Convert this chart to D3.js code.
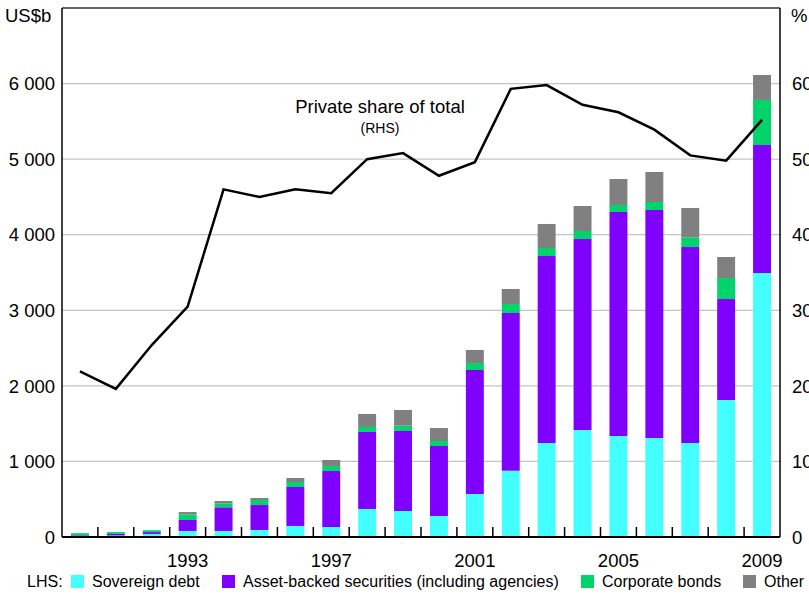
<!DOCTYPE html>
<html>
<head>
<meta charset="utf-8">
<title>Private share of total</title>
<script src="https://d3js.org/d3.v7.min.js"></script>
<style>
  body { margin: 0; background: #fff; }
  svg { font-family: "Liberation Sans", Arial, sans-serif; }
</style>
</head>
<body>
<script>
// data (US$b, % for the line)
var years = d3.range(1990, 2010);
var sovereign = [10, 20, 40, 80, 80, 93, 146, 132, 371, 344, 278, 569, 877, 1244, 1416, 1336, 1310, 1244, 1813, 3493];
var abs       = [12, 20, 25, 145, 313, 330, 516, 741, 1019, 1059, 926, 1641, 2087, 2474, 2527, 2965, 3017, 2593, 1336, 1694];
var corporate = [28, 25, 25, 75, 53, 67, 66, 67, 66, 70, 66, 92, 119, 106, 106, 92, 106, 129, 278, 596];
var other     = [0, 0, 0, 30, 30, 26, 53, 79, 172, 208, 172, 173, 199, 318, 331, 344, 397, 388, 278, 331];
var privateShare = [21.9, 19.6, 25.4, 30.5, 46.0, 45.0, 46.0, 45.5, 50.0, 50.8, 47.8, 49.6, 59.3, 59.8, 57.2, 56.2, 53.9, 50.5, 49.8, 55.2];
var leftTicks = [0, 1000, 2000, 3000, 4000, 5000, 6000];
var rightTicks = [0, 10, 20, 30, 40, 50, 60];
var yearLabels = [1993, 1997, 2001, 2005, 2009];

var seriesNames = ["Sovereign debt", "Asset-backed securities (including agencies)", "Corporate bonds", "Other"];
var colors = ["#44ffff", "#8000ff", "#00d46a", "#808080"];

var W = 809, H = 594;
var m = {left: 62, right: 29, top: 8, bottom: 57};
var iw = W - m.left - m.right, ih = H - m.top - m.bottom;

var svg = d3.select("body").append("svg").attr("width", W).attr("height", H);
var g = svg.append("g").attr("transform", "translate(" + m.left + "," + m.top + ")");

var x = d3.scaleBand().domain(years).range([0, iw]).paddingInner(0.5).paddingOuter(0.25);
var yL = d3.scaleLinear().domain([0, 7000]).range([ih, 0]);
var yR = d3.scaleLinear().domain([0, 70]).range([ih, 0]);

// gridlines
g.selectAll(".grid").data(leftTicks.slice(1)).enter().append("line")
  .attr("x1", 0).attr("x2", iw)
  .attr("y1", function(d){ return yL(d); }).attr("y2", function(d){ return yL(d); })
  .attr("stroke", "#c4c4c4").attr("stroke-width", 1.2);

// stacked bars
var table = years.map(function(yr, i){
  return {year: yr, s0: sovereign[i], s1: abs[i], s2: corporate[i], s3: other[i]};
});
var stack = d3.stack().keys(["s0", "s1", "s2", "s3"])(table);

g.selectAll(".layer").data(stack).enter().append("g")
  .attr("fill", function(d, i){ return colors[i]; })
  .selectAll("rect").data(function(d){ return d; }).enter().append("rect")
  .attr("x", function(d){ return x(d.data.year); })
  .attr("width", x.bandwidth())
  .attr("y", function(d){ return yL(d[1]); })
  .attr("height", function(d){ return yL(d[0]) - yL(d[1]); });

// line
var line = d3.line()
  .x(function(d, i){ return x(years[i]) + x.bandwidth() / 2; })
  .y(function(d){ return yR(d); });
g.append("path").datum(privateShare)
  .attr("d", line).attr("fill", "none")
  .attr("stroke", "#000").attr("stroke-width", 2.5).attr("stroke-linejoin", "miter");

// frame
g.append("line").attr("x1", 0).attr("x2", iw).attr("y1", 0).attr("y2", 0).attr("stroke", "#333").attr("stroke-width", 1.5);
g.append("line").attr("x1", 0).attr("x2", 0).attr("y1", 0).attr("y2", ih).attr("stroke", "#000").attr("stroke-width", 1.5);
g.append("line").attr("x1", iw).attr("x2", iw).attr("y1", 0).attr("y2", ih).attr("stroke", "#000").attr("stroke-width", 1.5);
g.append("line").attr("x1", 0).attr("x2", iw).attr("y1", ih).attr("y2", ih).attr("stroke", "#000").attr("stroke-width", 2);

// bottom ticks between bars
var step = x.step();
g.selectAll(".xtick").data(years.slice(1)).enter().append("line")
  .attr("x1", function(d){ return x(d) - step * 0.25; })
  .attr("x2", function(d){ return x(d) - step * 0.25; })
  .attr("y1", ih).attr("y2", ih - 10)
  .attr("stroke", "#000").attr("stroke-width", 1.5);

// left axis labels
var fmt = function(d){ return d3.format(",")(d).replace(",", " "); };
g.selectAll(".ltick").data(leftTicks).enter().append("text")
  .attr("x", -7).attr("y", function(d){ return yL(d); }).attr("dy", "0.36em")
  .attr("text-anchor", "end").attr("font-size", 18.5).text(fmt);
// right axis labels (cut by the page edge, as in the original)
g.selectAll(".rtick").data(rightTicks).enter().append("text")
  .attr("x", iw + 12).attr("y", function(d){ return yR(d); }).attr("dy", "0.36em")
  .attr("text-anchor", "start").attr("font-size", 18.5).text(function(d){ return d; });

svg.append("text").attr("x", 5).attr("y", 22).attr("font-size", 18.5).text("US$b");
svg.append("text").attr("x", 791).attr("y", 22).attr("font-size", 18.5).text("%");

// year labels
g.selectAll(".year").data(yearLabels).enter().append("text")
  .attr("x", function(d){ return x(d) + x.bandwidth() / 2; })
  .attr("y", ih + 30).attr("text-anchor", "middle").attr("font-size", 18.5)
  .text(function(d){ return d; });

// line label
svg.append("text").attr("x", 380).attr("y", 113).attr("text-anchor", "middle").attr("font-size", 18.5).text("Private share of total");
svg.append("text").attr("x", 380).attr("y", 133).attr("text-anchor", "middle").attr("font-size", 14).text("(RHS)");

// legend
var legY = 582;
svg.append("text").attr("x", 27).attr("y", legY + 5).attr("font-size", 16).text("LHS:");
var legX = [71, 222, 581, 743];
seriesNames.forEach(function(name, i){
  svg.append("rect").attr("x", legX[i]).attr("y", legY - 7).attr("width", 13).attr("height", 13).attr("fill", colors[i]);
  svg.append("text").attr("x", legX[i] + 21).attr("y", legY + 5).attr("font-size", 16).text(name);
});
</script>
</body>
</html>
